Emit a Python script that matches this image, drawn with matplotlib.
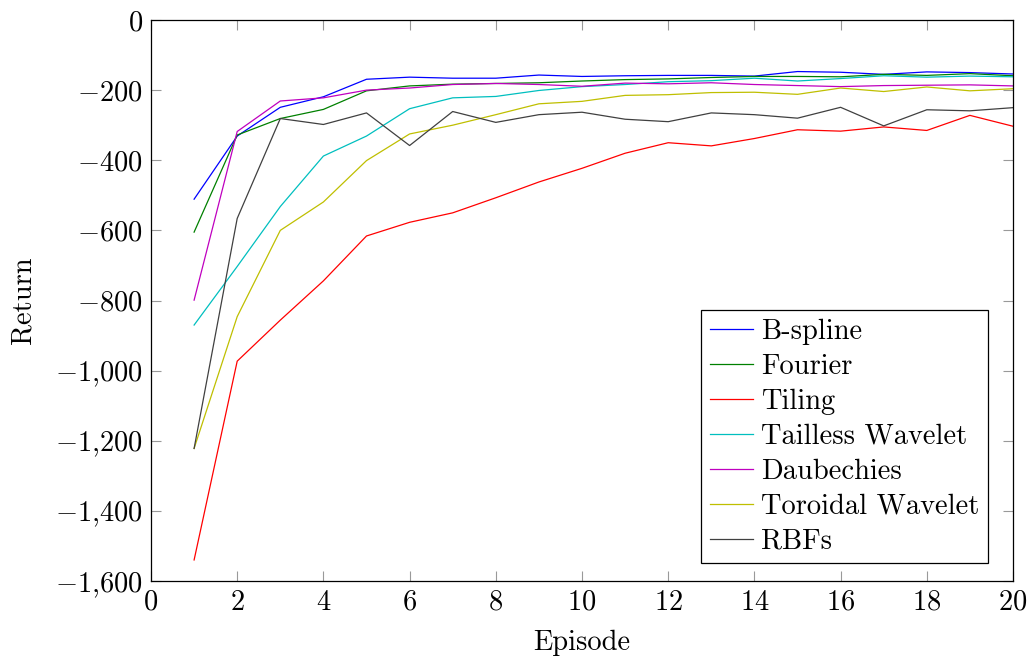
import matplotlib
matplotlib.use("Agg")
import matplotlib.pyplot as plt
from matplotlib.ticker import FuncFormatter, MultipleLocator
from matplotlib import rcParams

rcParams.update({
    "font.family": ["cmr10"],
    "mathtext.fontset": "cm",
    "axes.formatter.use_mathtext": True,
    "font.size": 20.5,
})

episodes = list(range(1, 21))

bspline = [-511, -331, -249, -219, -169, -163, -166, -166, -157, -161,
           -159, -158, -158, -160, -147, -149, -155, -148, -150, -154]
fourier = [-605, -328, -281, -255, -202, -188, -183, -181, -179, -174,
           -170, -168, -164, -161, -161, -162, -155, -158, -153, -159]
tiling = [-1540, -973, -856, -744, -616, -577, -550, -507, -462, -423,
          -380, -350, -359, -338, -313, -317, -305, -315, -272, -303]
tailless = [-870, -703, -532, -388, -331, -253, -222, -218, -201, -190,
            -184, -176, -173, -166, -174, -167, -159, -163, -160, -162]
daubechies = [-799, -318, -231, -222, -200, -194, -184, -181, -184, -189,
              -180, -182, -179, -184, -187, -190, -187, -186, -185, -188]
toroidal = [-1222, -846, -600, -519, -401, -325, -300, -270, -239, -232,
            -215, -213, -207, -206, -212, -194, -204, -191, -202, -196]
rbfs = [-1222, -566, -281, -298, -265, -358, -261, -292, -270, -263,
        -283, -290, -265, -270, -280, -249, -302, -256, -259, -250]

series = [
    ("B-spline", bspline, "b"),
    ("Fourier", fourier, "g"),
    ("Tiling", tiling, "r"),
    ("Tailless Wavelet", tailless, "c"),
    ("Daubechies", daubechies, "m"),
    ("Toroidal Wavelet", toroidal, "y"),
    ("RBFs", rbfs, "#404040"),
]
colors = {"b": (0, 0, 1), "g": (0, 0.5, 0), "r": (1, 0, 0),
          "c": (0, 0.75, 0.75), "m": (0.75, 0, 0.75), "y": (0.75, 0.75, 0)}

fig = plt.figure(figsize=(10.29, 6.57), dpi=100)
ax = fig.add_axes([151 / 1029, 76 / 657, 862 / 1029, 561 / 657])

for name, vals, c in series:
    ax.plot(episodes, vals, color=colors.get(c, c), lw=0.9, label=name)

ax.set_xlim(0, 20)
ax.set_ylim(-1600, 0)
ax.xaxis.set_major_locator(MultipleLocator(2))
ax.yaxis.set_major_locator(MultipleLocator(200))
ax.yaxis.set_major_formatter(FuncFormatter(
    lambda v, _: "$0$" if v == 0 else "$" + f"{v:,.0f}".replace(",", "{,}") + "$"))
ax.xaxis.set_major_formatter(FuncFormatter(lambda v, _: f"${v:.0f}$"))
ax.tick_params(direction="in", length=7, width=0.8, color="#999999",
               top=True, right=True, labelsize=20.5, pad=6)
for sp in ax.spines.values():
    sp.set_linewidth(0.9)

ax.set_xlabel("Episode", fontsize=20.5, labelpad=10)
ax.set_ylabel("Return", fontsize=20.5, labelpad=13)

leg = ax.legend(loc="lower right", bbox_to_anchor=(0.971, 0.032), fontsize=20.5,
                fancybox=False, framealpha=1, edgecolor="black",
                handlelength=1.5, handletextpad=0.3, labelspacing=0.3,
                borderpad=0.3, borderaxespad=0)
leg.get_frame().set_linewidth(0.9)

fig.savefig("out.png", dpi=100)
